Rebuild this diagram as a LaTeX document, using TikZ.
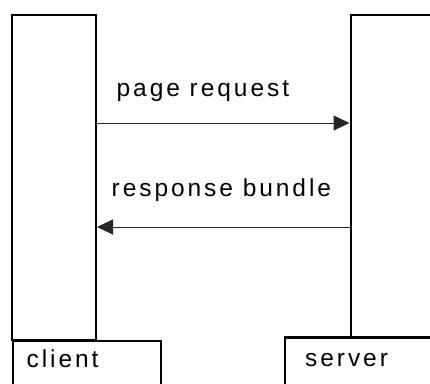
\documentclass[tikz,border=0pt]{standalone}
\usepackage{fontspec}
\setmainfont{Liberation Sans}[LetterSpace=12]
\usetikzlibrary{arrows.meta}
\begin{document}
\begin{tikzpicture}[x=1pt,y=-1pt,
  lifebox/.style={draw=black, line width=2.5pt, rectangle, inner sep=0pt, anchor=north west},
  lbl/.style={inner sep=0pt, anchor=base west, font=\fontsize{24.5}{29}\selectfont},
  msg/.style={draw=black!85, line width=1pt, -{Triangle[length=16pt,width=15pt]}}]
\useasboundingbox (0,0) rectangle (430,383);
\clip (0,0) rectangle (430,383);
% lifelines
\node[lifebox, minimum width=84pt, minimum height=325pt] (cl) at (10.5,13.5) {};
\node[lifebox, minimum width=120pt, minimum height=322.5pt] (sv) at (349.5,13.5) {};
% label boxes
\node[lifebox, minimum width=148pt, minimum height=80pt] (clbox) at (11.5,339.5) {};
\node[lifebox, minimum width=200pt, minimum height=80pt] (svbox) at (283.5,336) {};
\node[lbl] (cltext) at (26.5,367.5) {client};
\node[lbl] (svtext) at (305,366.5) {server};
% messages
\coordinate (ry) at (0,123);
\coordinate (sy) at (0,227);
\draw[msg] (cl.east |- ry) -- (sv.west |- ry);
\draw[msg] (sv.west |- sy) -- (cl.east |- sy);
\node[lbl] (req) at (116.5,96.5) {page request};
\node[lbl] (resp) at (111.5,196.5) {response bundle};
\end{tikzpicture}
\end{document}
